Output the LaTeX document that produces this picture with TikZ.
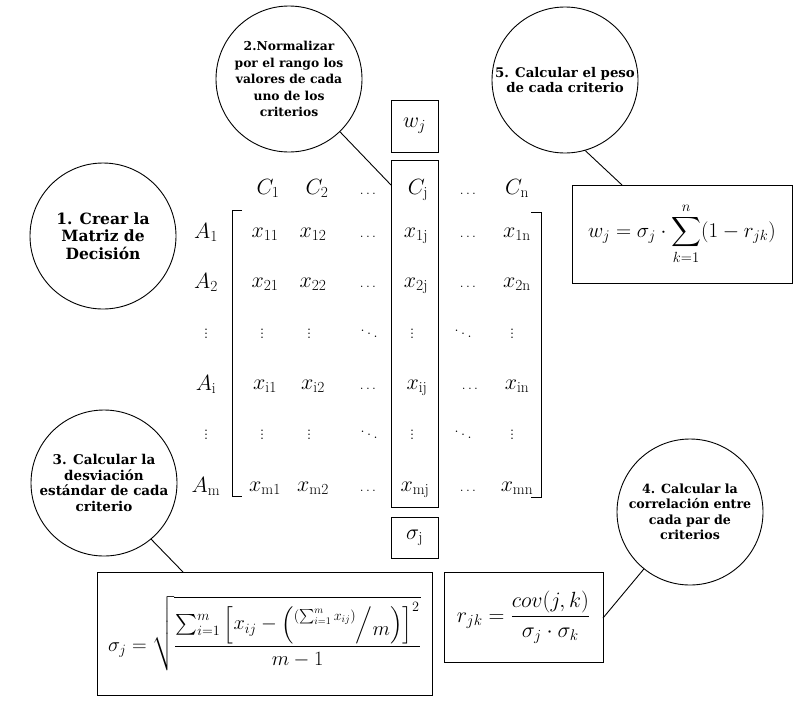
\RequirePackage{fix-cm}
\documentclass[tikz,border=0pt]{standalone}
\usepackage{amsmath}
\usepackage{fontspec}
\newfontfamily\stepfont{DejaVu Serif}

\begin{document}
\begin{tikzpicture}[x=1pt,y=-1pt,line width=0.9pt,
   stepc/.style={draw,circle,minimum size=146pt,inner sep=0pt,align=center,
      font=\stepfont\bfseries\fontsize{13}{15.5}\selectfont},
   cellb/.style={draw,minimum width=47pt,inner sep=0pt,font=\fontsize{22}{24}\selectfont},
   formb/.style={draw,inner sep=0pt,font=\fontsize{20.3}{24}\selectfont},
   entry/.style={anchor=base,inner sep=0pt,font=\fontsize{22}{24}\selectfont},
   dotsx/.style={anchor=base,inner sep=0pt,font=\fontsize{18}{20}\selectfont},
   dotsh/.style={anchor=base,inner sep=0pt,font=\fontsize{14}{16}\selectfont}]
   \useasboundingbox (0,0) rectangle (802,702);

   % steps
   \node[stepc,font=\stepfont\bfseries\fontsize{15.5}{17.5}\selectfont] (s1) at (103,236) {1. Crear la\\Matriz de\\Decisión};
   \node[stepc,font=\stepfont\bfseries\fontsize{12.3}{16.5}\selectfont] (s2) at (289,79) {2.Normalizar\\por el rango los\\valores de cada\\uno de los\\criterios};
   \node[stepc,font=\stepfont\bfseries\fontsize{13.5}{15.5}\selectfont] (s3) at (104,483) {3. Calcular la\\desviación\\estándar de cada\\criterio};
   \node[stepc,font=\stepfont\bfseries\fontsize{12.6}{15.5}\selectfont] (s4) at (690,512) {4. Calcular la\\correlación entre\\cada par de\\criterios};
   \node[stepc,font=\stepfont\bfseries\fontsize{13.3}{15.5}\selectfont] (s5) at (565,80) {5. Calcular el peso\\de cada criterio};

   % boxes
   \node[cellb,minimum height=52pt] (wbox) at (414.5,126) {$w_j$};
   \node[cellb,minimum height=347pt] (colj) at (414.5,333.5) {};
   \node[cellb,minimum height=41pt] (sbox) at (414.5,537.5) {$\sigma_{\mathrm{j}}$};

   % formulas
   \node[formb,minimum width=335pt,minimum height=123pt] (sigf) at (264.5,633.5)
      {$\sigma_j=\sqrt{\dfrac{\sum\nolimits_{i=1}^{m}\left[x_{ij}-\left(\raisebox{1.1ex}{$\scriptstyle\left(\sum_{i=1}^{m}x_{ij}\right)$}\Big/\raisebox{-0.6ex}{$m$}\right)\right]^2}{m-1}}$};
   \node[formb,minimum width=159pt,minimum height=90pt,font=\fontsize{22}{26}\selectfont] (corf) at (523.5,617)
      {$r_{jk}=\dfrac{cov(j,k)}{\sigma_j\cdot\sigma_k}$};
   \node[formb,minimum width=220pt,minimum height=98pt,font=\fontsize{21}{26}\selectfont] (wf) at (682,234)
      {$\displaystyle w_j=\sigma_j\cdot\sum_{k=1}^{n}(1-r_{jk})$};

   % header
   \node[entry] (h1) at (268,194) {$C_{\mathrm{1}}$};
   \node[entry] (h2) at (317,194) {$C_{\mathrm{2}}$};
   \node[dotsh] (h3) at (368,194) {$\ldots$};
   \node[entry] (h4) at (418,194) {$C_{\mathrm{j}}$};
   \node[dotsh] (h5) at (468,194) {$\ldots$};
   \node[entry] (h6) at (517,194) {$C_{\mathrm{n}}$};

   % row labels
   \node[entry] (r1) at (206,238) {$A_{\mathrm{1}}$};
   \node[entry] (r2) at (206,288) {$A_{\mathrm{2}}$};
   \node[dotsx] (r3) at (206,338) {$\vdots$};
   \node[entry] (r4) at (206,390) {$A_{\mathrm{i}}$};
   \node[dotsx] (r5) at (206,439) {$\vdots$};
   \node[entry] (r6) at (206,492) {$A_{\mathrm{m}}$};

   % row 1
   \node[entry] (m11) at (265,237) {$x_{\mathrm{11}}$};
   \node[entry] (m12) at (313,237) {$x_{\mathrm{12}}$};
   \node[dotsh] (m13) at (368,237) {$\ldots$};
   \node[entry] (m14) at (416,237) {$x_{\mathrm{1j}}$};
   \node[dotsh] (m15) at (468,237) {$\ldots$};
   \node[entry] (m16) at (517,237) {$x_{\mathrm{1n}}$};
   % row 2
   \node[entry] (m21) at (265,287) {$x_{\mathrm{21}}$};
   \node[entry] (m22) at (313,287) {$x_{\mathrm{22}}$};
   \node[dotsh] (m23) at (368,287) {$\ldots$};
   \node[entry] (m24) at (416,287) {$x_{\mathrm{2j}}$};
   \node[dotsh] (m25) at (468,287) {$\ldots$};
   \node[entry] (m26) at (517,287) {$x_{\mathrm{2n}}$};
   % row 3
   \node[dotsx] (m31) at (262,338) {$\vdots$};
   \node[dotsx] (m32) at (309,338) {$\vdots$};
   \node[dotsx] (m33) at (369,338) {$\ddots$};
   \node[dotsx] (m34) at (412,338) {$\vdots$};
   \node[dotsx] (m35) at (463,338) {$\ddots$};
   \node[dotsx] (m36) at (512,338) {$\vdots$};
   % row 4
   \node[entry] (m41) at (265,389) {$x_{\mathrm{i1}}$};
   \node[entry] (m42) at (313,389) {$x_{\mathrm{i2}}$};
   \node[dotsh] (m43) at (368,389) {$\ldots$};
   \node[entry] (m44) at (417,389) {$x_{\mathrm{ij}}$};
   \node[dotsh] (m45) at (470,389) {$\ldots$};
   \node[entry] (m46) at (517,389) {$x_{\mathrm{in}}$};
   % row 5
   \node[dotsx] (m51) at (262,439) {$\vdots$};
   \node[dotsx] (m52) at (309,439) {$\vdots$};
   \node[dotsx] (m53) at (369,439) {$\ddots$};
   \node[dotsx] (m54) at (412,439) {$\vdots$};
   \node[dotsx] (m55) at (463,439) {$\ddots$};
   \node[dotsx] (m56) at (512,439) {$\vdots$};
   % row 6
   \node[entry] (m61) at (265,491) {$x_{\mathrm{m1}}$};
   \node[entry] (m62) at (313,491) {$x_{\mathrm{m2}}$};
   \node[dotsh] (m63) at (368,491) {$\ldots$};
   \node[entry] (m64) at (415,491) {$x_{\mathrm{mj}}$};
   \node[dotsh] (m65) at (468,491) {$\ldots$};
   \node[entry] (m66) at (517,491) {$x_{\mathrm{mn}}$};

   % brackets
   \draw (242,210) -- (232,210) -- (232,496) -- (242,496);
   \draw (531,212) -- (541,212) -- (541,497) -- (531,497);

   % connectors
   \coordinate (tcj) at (391,185);
   \coordinate (tsig) at (183,572);
   \coordinate (tcor) at (603,618);
   \coordinate (tw) at (622,185);
   \draw (s2.-46) -- (tcj);
   \draw (s3.-50) -- (tsig);
   \draw (s4.-129) -- (tcor);
   \draw (s5.-74) -- (tw);

\end{tikzpicture}
\end{document}
